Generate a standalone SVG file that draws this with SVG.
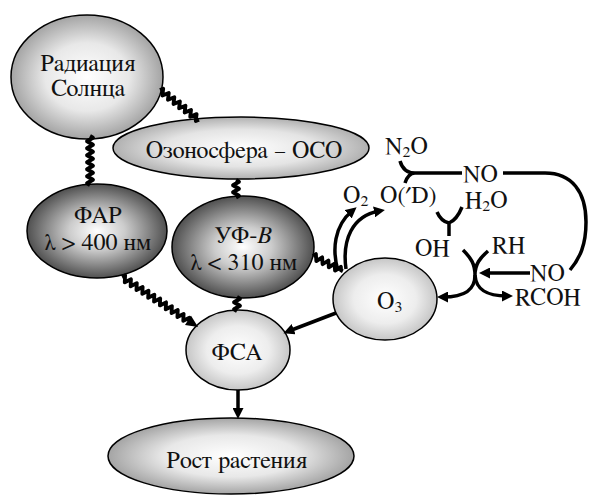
<svg xmlns="http://www.w3.org/2000/svg" width="589" height="498" viewBox="0 0 589 498">
<style>
  .n { stroke: #000; stroke-width: 1.5; }
  .t { font-family: FreeSerif, "TeX Gyre Termes", "Noto Serif CJK SC", "Liberation Serif", serif; font-size: 24px; fill: #111; }
  .c { text-anchor: middle; }
  .wave { fill: none; stroke: #000; stroke-width: 3.8; stroke-linejoin: round; }
  .line { fill: none; stroke: #000; stroke-width: 3.5; }
  .arr { fill: none; stroke: #000; stroke-width: 3.5; marker-end: url(#ah); }
</style>
<defs>
  <radialGradient id="gMid" cx="50%" cy="50%" r="50%">
    <stop offset="0" stop-color="#ffffff"/>
    <stop offset="0.55" stop-color="#e8e8e8"/>
    <stop offset="1" stop-color="#a4a4a4"/>
  </radialGradient>
  <radialGradient id="gLight" cx="50%" cy="50%" r="50%">
    <stop offset="0" stop-color="#ffffff"/>
    <stop offset="0.6" stop-color="#e4e4e4"/>
    <stop offset="1" stop-color="#b0b0b0"/>
  </radialGradient>
  <radialGradient id="gDark" cx="50%" cy="50%" r="50%">
    <stop offset="0" stop-color="#ffffff"/>
    <stop offset="0.4" stop-color="#cccccc"/>
    <stop offset="1" stop-color="#505050"/>
  </radialGradient>
  <radialGradient id="gPale" cx="50%" cy="50%" r="50%">
    <stop offset="0" stop-color="#ffffff"/>
    <stop offset="0.6" stop-color="#ededed"/>
    <stop offset="1" stop-color="#c6c6c6"/>
  </radialGradient>
  <marker id="ah" markerUnits="userSpaceOnUse" markerWidth="12" markerHeight="11" refX="5" refY="5.5" orient="auto">
    <path d="M0,0 L11,5.5 L0,11 z" fill="#000"/>
  </marker>
</defs>

<g id="node-radiation">
  <ellipse class="n" cx="87" cy="77" rx="76" ry="62" fill="url(#gMid)"/>
  <text class="t c" x="88" y="71">Радиация</text>
  <text class="t c" x="88" y="96">Солнца</text>
</g>
<g id="node-ozonosphere">
  <ellipse class="n" cx="241" cy="148" rx="128" ry="31" fill="url(#gLight)"/>
  <text class="t c" x="244" y="158">Озоносфера – ОСО</text>
</g>
<g id="node-far">
  <ellipse class="n" cx="97" cy="231" rx="70" ry="47" fill="url(#gDark)"/>
  <text class="t c" x="98" y="223">ФАР</text>
  <text class="t c" x="98" y="250">λ &gt; 400 нм</text>
</g>
<g id="node-uvb">
  <ellipse class="n" cx="243" cy="247" rx="71" ry="51" fill="url(#gDark)"/>
  <text class="t c" x="243" y="243">УФ-<tspan font-style="italic">B</tspan></text>
  <text class="t c" x="244" y="270">λ &lt; 310 нм</text>
</g>
<g id="node-o3">
  <ellipse class="n" cx="385" cy="299" rx="52" ry="41" fill="url(#gPale)"/>
  <text class="t" x="377" y="309">O<tspan font-size="16" dy="3">3</tspan></text>
</g>
<g id="node-fsa">
  <ellipse class="n" cx="238" cy="350" rx="52" ry="40" fill="url(#gPale)"/>
  <text class="t c" x="237" y="360">ФСА</text>
</g>
<g id="node-growth">
  <ellipse class="n" cx="231" cy="456" rx="123" ry="38" fill="url(#gMid)"/>
  <text class="t c" x="237" y="468">Рост растения</text>
</g>

<g id="labels">
  <text class="t" x="385" y="154">N<tspan font-size="16" dy="3">2</tspan><tspan dy="-3">O</tspan></text>
  <text class="t" x="463" y="182">NO</text>
  <text class="t" x="343" y="203">O<tspan font-size="16" dy="3">2</tspan></text>
  <text class="t" x="380" y="203">O(′D)</text>
  <text class="t" x="465" y="208">H<tspan font-size="16" dy="3">2</tspan><tspan dy="-3">O</tspan></text>
  <text class="t" x="415" y="256">OH</text>
  <text class="t" x="492" y="253">RH</text>
  <text class="t" x="530" y="281">NO</text>
  <text class="t" x="515" y="305">RCOH</text>
</g>

<g id="connectors">
  <path class="wave" transform="translate(160,90) rotate(37.3)" d="M0,0 l1.75,-3 l3.5,6 l3.5,-6 l3.5,6 l3.5,-6 l3.5,6 l3.5,-6 l3.5,6 l3.5,-6 l3.5,6 l3.5,-6 l3.5,6 l3.5,-6 l3.5,6 l1.75,-3"/>
  <path class="wave" transform="translate(90,136) rotate(90)" d="M0,0 l1.75,-3 l3.5,6 l3.5,-6 l3.5,6 l3.5,-6 l3.5,6 l3.5,-6 l3.5,6 l3.5,-6 l3.5,6 l3.5,-6 l3.5,6 l3.5,-6 l3.5,6 l1.75,-3"/>
  <path class="wave" transform="translate(236,180) rotate(90)" d="M0,0 l1.75,-3 l3.5,6 l3.5,-6 l3.5,6 l3.5,-6 l1.75,3"/>
  <g transform="translate(122,277) rotate(33.3)">
    <path class="wave" d="M0,0 l1.75,-3 l3.5,6 l3.5,-6 l3.5,6 l3.5,-6 l3.5,6 l3.5,-6 l3.5,6 l3.5,-6 l3.5,6 l3.5,-6 l3.5,6 l3.5,-6 l3.5,6 l3.5,-6 l3.5,6 l3.5,-6 l3.5,6 l3.5,-6 l3.5,6 l3.5,-6 l3.5,6 l3.5,-6 l1.75,3 l3,0"/>
    <path d="M79,-5.5 L91,0 L79,5.5 z" fill="#000"/>
  </g>
  <path class="wave" transform="translate(237,297) rotate(90)" d="M0,0 l1.75,-3 l3.5,6 l3.5,-6 l3.5,6 l1.75,-3"/>
  <path class="wave" transform="translate(313,256) rotate(27)" d="M0,0 l1.75,-3 l3.5,6 l3.5,-6 l3.5,6 l3.5,-6 l3.5,6 l3.5,-6 l3.5,6 l3.5,-6 l1.75,3 l2,0"/>

  <path class="arr" d="M338,271 C332,250 334,226 352,211"/>
  <path class="arr" d="M346,269 C342,240 352,216 379,211"/>
  <path class="arr" d="M336,313 L289,331"/>
  <path class="arr" d="M238,390 L238,413"/>

  <path class="line" d="M400,161 C402,168 406,173 415,173 M405,183 C407,177 410,173 415,173 L462,173"/>
  <path class="line" d="M503,173 L545,173 C572,173 586,192 586,222 C586,245 580,258 570,270"/>

  <path class="line" d="M437,212 C440,219 444,222 449,223 M462,207 C458,217 454,221 449,223 L449,236"/>

  <path class="line" d="M463,250 C471,258 475,264 475,275 M488,251 C480,258 475,264 475,275"/>
  <path class="arr" d="M530,273 L485,273"/>
  <path class="arr" d="M475,275 C475,290 465,297 443,297"/>
  <path class="arr" d="M475,275 C476,290 487,296 507,296"/>
</g>
</svg>
